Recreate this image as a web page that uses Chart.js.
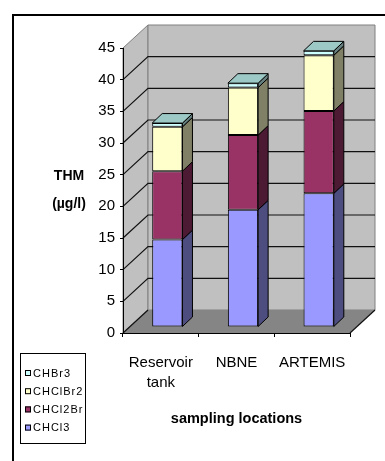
<!DOCTYPE html>
<html>
<head>
<meta charset="utf-8">
<script src="https://cdn.jsdelivr.net/npm/chart.js@4/dist/chart.umd.min.js"></script>
<style>
html, body { margin: 0; padding: 0; background: #fff; }
#wrap { position: relative; width: 385px; height: 461px; }
</style>
</head>
<body>
<div id="wrap"><canvas id="c"></canvas></div>
<script>
// THM concentrations (µg/l) per sampling location, one array per compound
const categories = [['Reservoir', 'tank'], 'NBNE', 'ARTEMIS'];
const seriesNames = ['CHCl3', 'CHCl2Br', 'CHClBr2', 'CHBr3'];
const legendNames = ['CHCl3', 'CHCl2Br', 'CHClBr2', 'CHBr3'];
const chcl3   = [13.8, 18.5, 21.1];
const chcl2br = [10.8, 11.8, 13.0];
const chclbr2 = [7.0, 7.5, 8.8];
const chbr3   = [0.6, 0.7, 0.7];
const yMin = 0;
const yMax = 45;
const yStep = 5;
const yTitle = ['THM', '(µg/l)'];
const xTitle = 'sampling locations';

const frontColors = ['#9999ff', '#993366', '#ffffcc', '#ccffff'];
const sideColors  = ['#4d4d80', '#4d1a33', '#808066', '#668080'];
const topColors   = ['#7373bf', '#73264d', '#bfbf99', '#9cc9c6'];

// oblique projection offsets (pixels)
const WALL = { dx: 25, dy: -23 };
const BAR_FRONT = { dx: 6.5, dy: -6 };
const BAR_DEPTH = { dx: 10, dy: -9.5 };

const FONT = '"Liberation Sans", Arial, sans-serif';

function poly(ctx, pts) {
  ctx.beginPath();
  ctx.moveTo(pts[0][0], pts[0][1]);
  for (let i = 1; i < pts.length; i++) ctx.lineTo(pts[i][0], pts[i][1]);
  ctx.closePath();
}

// walls, floor and gridlines behind the bars
const frame3d = {
  id: 'frame3d',
  beforeDraw(chart) {
    const { ctx, chartArea: a, scales: { y } } = chart;
    const L = a.left, R = a.right, T = a.top, B = a.bottom;
    const dx = WALL.dx, dy = WALL.dy;
    ctx.save();
    ctx.fillStyle = '#fff';
    ctx.fillRect(0, 0, chart.width, chart.height);

    // outer chart frame
    ctx.strokeStyle = '#000';
    ctx.lineWidth = 2;
    ctx.beginPath();
    ctx.moveTo(13, chart.height + 2);
    ctx.lineTo(13, 15);
    ctx.lineTo(chart.width + 2, 15);
    ctx.stroke();

    ctx.lineWidth = 1;
    ctx.strokeStyle = '#808080';
    ctx.fillStyle = '#c0c0c0';
    poly(ctx, [[L, T], [L + dx, T + dy], [L + dx, B + dy], [L, B]]);
    ctx.fill(); ctx.stroke();
    poly(ctx, [[L + dx, T + dy], [R + dx, T + dy], [R + dx, B + dy], [L + dx, B + dy]]);
    ctx.fill(); ctx.stroke();
    ctx.fillStyle = '#858585';
    poly(ctx, [[L, B], [R, B], [R + dx, B + dy], [L + dx, B + dy]]);
    ctx.fill();

    // gridlines: diagonal on the side wall, horizontal on the back wall
    ctx.strokeStyle = '#111';
    ctx.lineWidth = 1.2;
    for (let v = yMin; v < yMax; v += yStep) {
      const py = y.getPixelForValue(v);
      ctx.beginPath();
      ctx.moveTo(L, py);
      ctx.lineTo(L + dx, py + dy);
      if (v > yMin) ctx.lineTo(R + dx, py + dy);
      ctx.stroke();
    }
    // right floor edge
    ctx.beginPath();
    ctx.moveTo(R, B);
    ctx.lineTo(R + dx, B + dy);
    ctx.stroke();
    ctx.restore();
  },
  beforeDatasetsDraw(chart) {
    chart.ctx.save();
    chart.ctx.translate(BAR_FRONT.dx, BAR_FRONT.dy);
  },
  afterDatasetsDraw(chart) {
    const ctx = chart.ctx;
    const n = chart.data.datasets.length;
    ctx.lineWidth = 1;
    ctx.strokeStyle = '#000';
    for (let d = 0; d < n; d++) {
      const meta = chart.getDatasetMeta(d);
      meta.data.forEach((bar) => {
        const { x, y, base, width } = bar.getProps(['x', 'y', 'base', 'width'], true);
        const xl = x - width / 2, xr = x + width / 2;
        const bx = BAR_DEPTH.dx, by = BAR_DEPTH.dy;
        ctx.fillStyle = sideColors[d];
        poly(ctx, [[xr, y], [xr + bx, y + by], [xr + bx, base + by], [xr, base]]);
        ctx.fill(); ctx.stroke();
        if (d === n - 1) {
          ctx.fillStyle = topColors[d];
          poly(ctx, [[xl, y], [xr, y], [xr + bx, y + by], [xl + bx, y + by]]);
          ctx.fill(); ctx.stroke();
        }
      });
    }
    ctx.restore();
  },
  afterDraw(chart) {
    const ctx = chart.ctx;
    ctx.save();
    // value axis caption
    ctx.fillStyle = '#000';
    ctx.font = 'bold 14px ' + FONT;
    ctx.textAlign = 'center';
    ctx.textBaseline = 'middle';
    ctx.fillText(yTitle[0], 69, 176);
    ctx.fillText(yTitle[1], 69, 204);

    // legend box
    const lx = 20, ly = 353, lw = 65, lh = 90;
    ctx.lineWidth = 1;
    ctx.strokeStyle = '#000';
    ctx.strokeRect(lx + 0.5, ly + 0.5, lw, lh);
    ctx.font = '11px ' + FONT;
    ctx.textAlign = 'left';
    ctx.letterSpacing = '1px';
    const ds = chart.data.datasets;
    for (let k = 0; k < ds.length; k++) {
      const d = ds.length - 1 - k;
      const ry = 373 + k * 18.2;
      ctx.fillStyle = ds[d].backgroundColor;
      ctx.fillRect(25, ry - 3, 6, 6);
      ctx.strokeRect(25.5, ry - 2.5, 5, 5);
      ctx.fillStyle = '#000';
      ctx.fillText(legendNames[d], 33, ry + 0.5);
    }
    ctx.restore();
  }
};

const values = [chcl3, chcl2br, chclbr2, chbr3];

new Chart(document.getElementById('c'), {
  type: 'bar',
  data: {
    labels: categories,
    datasets: values.map((vals, i) => ({
      label: seriesNames[i],
      data: vals,
      backgroundColor: frontColors[i],
      borderColor: '#000',
      borderWidth: 1,
      borderSkipped: false,
      categoryPercentage: 1.0,
      barPercentage: 0.4,
      clip: false
    }))
  },
  options: {
    responsive: true,
    maintainAspectRatio: false,
    animation: false,
    devicePixelRatio: 1,
    layout: { padding: { left: 83, right: 35, top: 48, bottom: 33 } },
    plugins: {
      legend: { display: false },
      tooltip: { enabled: false },
      title: { display: false }
    },
    scales: {
      x: {
        stacked: true,
        grid: { display: true, drawOnChartArea: false, drawTicks: true, tickLength: 4, offset: true, color: '#000' },
        border: { display: true, color: '#000', width: 1 },
        ticks: {
          color: '#000',
          padding: 16,
          maxRotation: 0,
          autoSkip: false,
          font: { family: FONT, size: 15, lineHeight: 1.33 }
        },
        title: {
          display: true,
          text: xTitle,
          color: '#000',
          padding: { top: 0, bottom: 0 },
          font: { family: FONT, size: 14.5, weight: 'bold' }
        },
        afterFit(scale) { scale.height = 95; }
      },
      y: {
        stacked: true,
        min: yMin,
        max: yMax,
        grid: { display: true, drawOnChartArea: false, drawTicks: true, tickLength: 3, color: '#000' },
        border: { display: true, color: '#000', width: 1 },
        ticks: {
          stepSize: yStep,
          color: '#000',
          padding: 5,
          font: { family: FONT, size: 15 }
        },
        afterFit(scale) { scale.width = 40; }
      }
    }
  },
  plugins: [frame3d]
});
</script>
</body>
</html>
